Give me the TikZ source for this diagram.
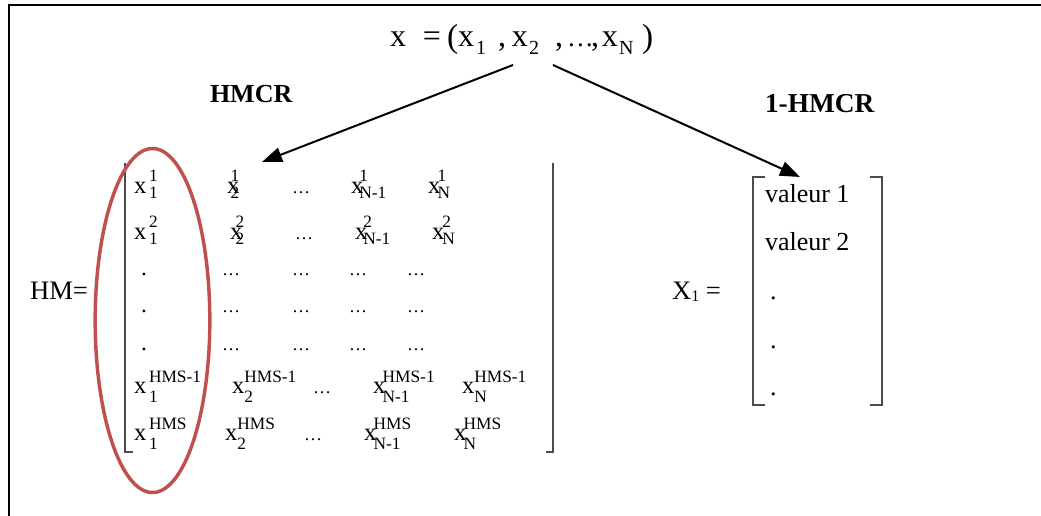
\documentclass[tikz,border=0pt]{standalone}
\usepackage{fontspec}
\setmainfont{Liberation Serif}
\usetikzlibrary{arrows.meta,shapes.geometric}
\definecolor{ellred}{HTML}{C0504D}
\definecolor{brk}{gray}{0.3}
\newcommand\fs[1]{\fontsize{#1}{#1}\selectfont}
\newcommand\xs[5]{{\fs{18.5}x}\kern#1\raisebox{-#2}{\fs{13}\vbox{\baselineskip=#3\lineskiplimit=-100pt\hbox{#4}\hbox{#5}}}}
\newcommand\xa[3]{\xs{#1}{3.75pt}{12.75pt}{#2}{#3}}
\newcommand\xb[3]{\xs{#1}{7pt}{15pt}{#2}{#3}}
\newcommand\atx[2]{\rlap{\kern#1\dimexpr0.75pt\relax#2}}
\newcommand\sbt[1]{\raisebox{-6pt}{\fs{15}#1}}
\newcommand\bigp[1]{\raisebox{-0.5pt}{\fs{25}#1}}
\tikzset{
  ent/.style={anchor=base west,inner sep=0pt,outer sep=0pt},
  dts/.style={ent,font=\fs{13.5}},
  dot/.style={ent,font=\fs{17.5}},
  val/.style={ent,font=\fs{19.5}},
  lbl/.style={ent,font=\fs{19.5}\bfseries},
  arr/.style={line width=1.5pt,-{Triangle[length=15pt,width=11pt]}},
  brkt/.style={draw=brk,line width=1.2pt},
}
\begin{document}
\begin{tikzpicture}[x=0.75pt,y=-0.75pt]
\useasboundingbox (0,0) rectangle (1041,516);
% frame (only top and left visible)
\draw[line width=1.6pt] (9,516) -- (9,5) -- (1041,5);

% top formula
\node[ent,font=\fs{24}] (top) at (388,47) {\atx{2}{x}\atx{35}{=}\atx{59}{\bigp{(}}\atx{70}{x}\atx{88}{\sbt{1}}\atx{110}{,}\atx{124}{x}\atx{141}{\sbt{2}}\atx{167}{,}\atx{179}{\fs{20}\ldots}\atx{203}{,}\atx{214}{x}\atx{231}{\sbt{N}}\atx{254}{\bigp{)}}\kern\dimexpr277\dimexpr0.75pt\relax\relax};
\node[lbl] (hmcr) at (210,103) {HMCR};
\node[lbl,font=\fs{20.5}\bfseries] (hmcr1) at (765,113) {1-HMCR};

% arrows
\coordinate (s1) at (513,65);
\coordinate (e1) at (262,162);
\coordinate (s2) at (553,65);
\coordinate (e2) at (800,177);
\draw[arr] (s1) -- (e1);
\draw[arr] (s2) -- (e2);

% HM matrix
\node[ent,font=\fs{20}] (hm) at (30,300) {HM=};
\coordinate (lt) at (125,163);
\coordinate (lb) at (125,452);
\coordinate (lbt) at (133,452);
\coordinate (rt) at (553,163);
\coordinate (rb) at (553,452);
\coordinate (rbt) at (546,452);
\draw[brkt] (lt) -- (lb) -- (lbt);
\draw[brkt] (rt) -- (rb) -- (rbt);

% row 1
\node[ent] (a11) at (134,194) {\xa{2pt}{1}{1}};
\node[ent] (a12) at (227,194) {\xa{-6.5pt}{1}{2}};
\node[dts] (a13) at (292,194) {\ldots};
\node[ent] (a14) at (351,194) {\xa{-3pt}{1}{N-1}};
\node[ent] (a15) at (428,194) {\xa{-2pt}{1}{N}};
% row 2
\node[ent] (a21) at (134,240) {\xa{2pt}{2}{1}};
\node[ent] (a22) at (230,240) {\xa{-5pt}{2}{2}};
\node[dts] (a23) at (295,240) {\ldots};
\node[ent] (a24) at (355,240) {\xa{-3pt}{2}{N-1}};
\node[ent] (a25) at (432,240) {\xa{-1.5pt}{2}{N}};
% dot rows
\foreach \r/\yy in {3/276,4/313,5/350}{
  \node[dot] (a\r1) at (141,\yy) {.};
  \node[dts] (a\r2) at (222,\yy) {\ldots};
  \node[dts] (a\r3) at (292,\yy) {\ldots};
  \node[dts] (a\r4) at (349,\yy) {\ldots};
  \node[dts] (a\r5) at (407,\yy) {\ldots};
}
% row 6
\node[ent] (a61) at (134,393) {\xb{2pt}{HMS-1}{1}};
\node[ent] (a62) at (232,393) {\xb{0pt}{HMS-1}{2}};
\node[dts] (a63) at (313,393) {\ldots};
\node[ent] (a64) at (373,393) {\xb{-2pt}{HMS-1}{N-1}};
\node[ent] (a65) at (462,393) {\xb{0pt}{HMS-1}{N}};
% row 7
\node[ent] (a71) at (134,440) {\xb{2pt}{HMS}{1}};
\node[ent] (a72) at (225,440) {\xb{0pt}{HMS}{2}};
\node[dts] (a73) at (304,440) {\ldots};
\node[ent] (a74) at (364,440) {\xb{-2pt}{HMS}{N-1}};
\node[ent] (a75) at (454,440) {\xb{-2pt}{HMS}{N}};

% red ellipse
\node[draw=ellred,line width=2.6pt,ellipse,minimum width=86pt,minimum height=258pt,inner sep=0pt] (ell) at (152.5,320.5) {};

% X1 vector
\node[ent,font=\fs{20}] (x1) at (672,300) {X\raisebox{-1pt}{\fs{12}1} =};
\coordinate (vlt) at (765,177);
\coordinate (vl1) at (753,177);
\coordinate (vl2) at (753,405);
\coordinate (vlb) at (765,405);
\coordinate (vrt) at (870,177);
\coordinate (vr1) at (882,177);
\coordinate (vr2) at (882,405);
\coordinate (vrb) at (870,405);
\draw[brkt] (vlt) -- (vl1) -- (vl2) -- (vlb);
\draw[brkt] (vrt) -- (vr1) -- (vr2) -- (vrb);
\node[val] (v1) at (765,203) {valeur 1};
\node[val] (v2) at (765,251) {valeur 2};
\node[val] (v3) at (770,300) {.};
\node[val] (v4) at (770,348) {.};
\node[val] (v5) at (770,395) {.};
\end{tikzpicture}
\end{document}
